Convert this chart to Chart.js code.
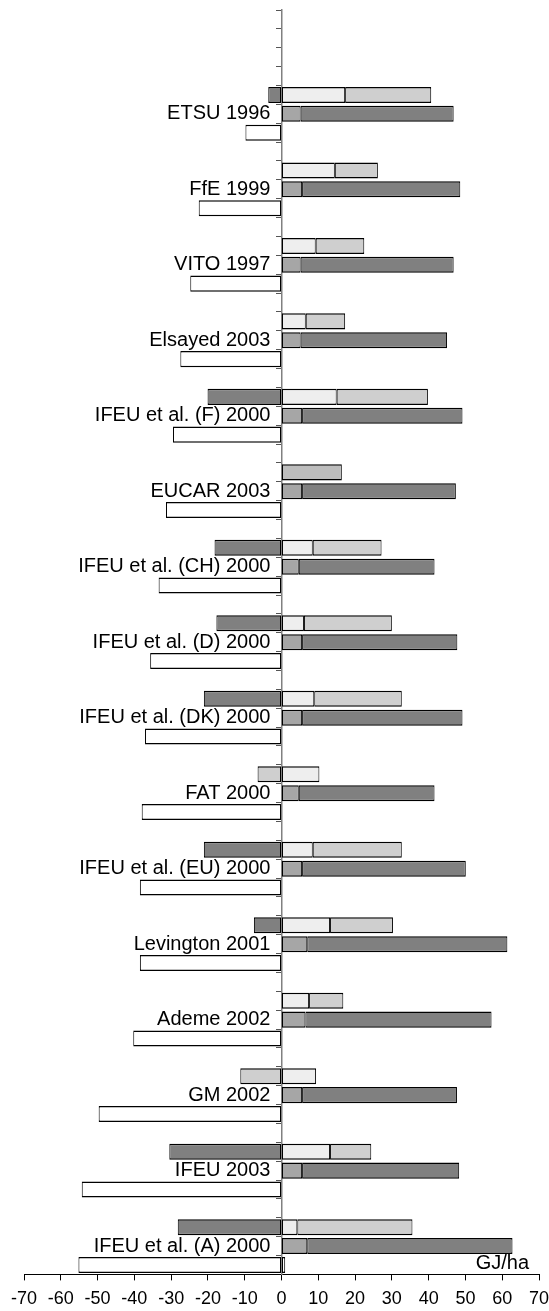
<!DOCTYPE html>
<html>
<head>
<meta charset="utf-8">
<script src="https://cdn.jsdelivr.net/npm/chart.js@4.4.1/dist/chart.umd.min.js"></script>
<style>
  html, body { margin: 0; padding: 0; background: #fff; }
  #wrap { width: 549px; height: 1311px; }
</style>
</head>
<body>
<div id="wrap"><canvas id="chart"></canvas></div>
<script>
// studies, top to bottom
var studies = ['ETSU 1996', 'FfE 1999', 'VITO 1997', 'Elsayed 2003', 'IFEU et al. (F) 2000',
  'EUCAR 2003', 'IFEU et al. (CH) 2000', 'IFEU et al. (D) 2000', 'IFEU et al. (DK) 2000',
  'FAT 2000', 'IFEU et al. (EU) 2000', 'Levington 2001', 'Ademe 2002', 'GM 2002',
  'IFEU 2003', 'IFEU et al. (A) 2000']

// upper bar of each study (GJ/ha, segment lengths)
var topLight = [17.3, 14.5, 9.3, 6.6, 15.0, 0, 8.5, 6.1, 8.9, 10.3, 8.5, 13.2, 7.5, 9.4, 13.2, 4.3]
var topGrey = [23.4, 11.7, 13.2, 10.7, 24.8, 0, 18.7, 23.9, 23.8, -6.5, 24.2, 17.1, 9.3, -11.2, 11.2, 31.3]
var topEucar = [0, 0, 0, 0, 0, 16.4, 0, 0, 0, 0, 0, 0, 0, 0, 0, 0]
var topDark = [-3.6, 0, 0, 0, -20.1, 0, -18.2, -17.7, -21.1, 0, -21.1, -7.5, 0, 0, -30.5, -28.2]

// middle bar
var midGrey = [5.2, 5.6, 5.2, 5.2, 5.6, 5.6, 4.7, 5.6, 5.6, 4.7, 5.6, 7.0, 6.5, 5.6, 5.6, 7.0]
var midDark = [41.6, 43.0, 41.6, 39.8, 43.6, 41.8, 36.9, 42.2, 43.6, 36.9, 44.5, 54.4, 50.6, 42.1, 42.7, 55.8]

// lower bar
var lowWhite = [-9.8, -22.5, -24.8, -27.5, -29.5, -31.4, -33.4, -35.7, -37.1, -38.0, -38.5, -38.5, -40.3, -49.7, -54.3, -55.2]
var lowWhitePos = [0, 0, 0, 0, 0, 0, 0, 0, 0, 0, 0, 0, 0, 0, 0, 1.0]

var xMin = -70
var xMax = 70
var xStep = 10
var unitText = 'GJ/ha'
var blankRowsAbove = 4

var fontFamily = '"Liberation Sans", Arial, sans-serif'

// every study takes four rows: upper, middle (label), lower, gap
var rowCount = blankRowsAbove + studies.length * 4 - 1

function rowIndex (i, slot) {
  return blankRowsAbove + i * 4 + slot
}

var rowLabels = []
for (var r = 0; r < rowCount; r++) rowLabels.push('')
studies.forEach(function (name, i) {
  rowLabels[rowIndex(i, 1)] = name
})

function spread (values, slot) {
  var out = []
  for (var r = 0; r < rowCount; r++) out.push(null)
  values.forEach(function (v, i) {
    if (v) out[rowIndex(i, slot)] = v
  })
  return out
}

function bars (label, values, slot, colour) {
  return { label: label, data: spread(values, slot), backgroundColor: colour }
}

// y scales take no room of their own, they sit on the x scale
function noRoom (scale) {
  scale.width = 0
  scale.paddingTop = 0
  scale.paddingBottom = 0
  scale.paddingLeft = 0
  scale.paddingRight = 0
}

var unitLabel = {
  id: 'unitLabel',
  afterDraw: function (chart) {
    var area = chart.chartArea
    var ctx = chart.ctx
    ctx.save()
    ctx.font = '20px ' + fontFamily
    ctx.fillStyle = '#000'
    ctx.textAlign = 'right'
    ctx.textBaseline = 'alphabetic'
    ctx.fillText(unitText, area.right - 10, area.bottom - 5)
    ctx.restore()
  }
}

Chart.defaults.font.family = fontFamily
Chart.defaults.color = '#000'

new Chart(document.getElementById('chart'), {
  type: 'bar',
  data: {
    labels: rowLabels,
    datasets: [
      bars('top light', topLight, 0, '#eeeeee'),
      bars('top grey', topGrey, 0, '#cfcfcf'),
      bars('top eucar', topEucar, 0, '#bdbdbd'),
      bars('top dark', topDark, 0, '#808080'),
      bars('middle grey', midGrey, 1, '#a6a6a6'),
      bars('middle dark', midDark, 1, '#808080'),
      bars('lower', lowWhite, 2, '#ffffff'),
      bars('lower pos', lowWhitePos, 2, '#ffffff')
    ]
  },
  options: {
    indexAxis: 'y',
    responsive: true,
    maintainAspectRatio: false,
    animation: false,
    layout: { padding: { top: 10, left: 24, right: 10, bottom: -7 } },
    plugins: {
      legend: { display: false },
      tooltip: { enabled: false }
    },
    datasets: {
      bar: {
        categoryPercentage: 1,
        barPercentage: 0.85,
        borderColor: '#000',
        borderWidth: { top: 1.5, bottom: 1.5, left: 1, right: 1 },
        borderSkipped: false
      }
    },
    scales: {
      x: {
        type: 'linear',
        min: xMin,
        max: xMax,
        stacked: true,
        ticks: { stepSize: xStep, color: '#000', font: { size: 18 }, padding: 8 },
        grid: { drawOnChartArea: false, tickLength: 6, color: '#000' },
        border: { color: '#000', width: 1 },
        afterFit: function (scale) {
          scale.paddingLeft = 0
          scale.paddingRight = 0
        }
      },
      y: {
        type: 'category',
        position: { x: -3 },
        stacked: true,
        offset: true,
        ticks: { autoSkip: false, color: '#000', font: { size: 20 } },
        grid: { display: false },
        border: { display: false },
        afterFit: noRoom
      },
      yAxis: {
        type: 'category',
        axis: 'y',
        position: { x: 0 },
        offset: true,
        ticks: { display: false },
        grid: { drawOnChartArea: false, tickLength: 5, color: '#555', offset: true },
        border: { color: '#808080', width: 1.5 },
        afterFit: noRoom
      }
    }
  },
  plugins: [unitLabel]
})
</script>
</body>
</html>
